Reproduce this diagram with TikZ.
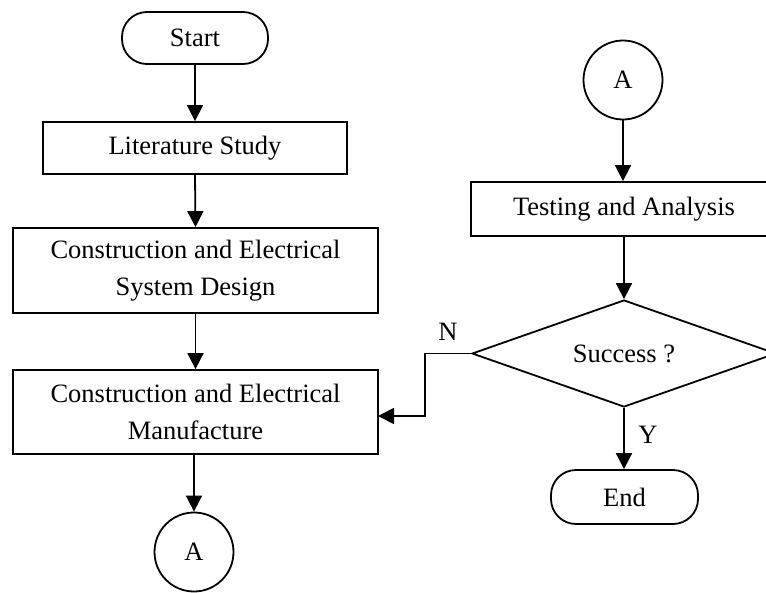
\documentclass[tikz,border=0pt]{standalone}
\usepackage{fontspec}
\setmainfont{Liberation Serif}
\usetikzlibrary{arrows.meta,shapes.geometric}
\begin{document}
\begin{tikzpicture}[x=1pt,y=-1pt,
  every node/.style={font=\fontsize{26.5}{37.5}\selectfont, inner sep=0pt},
  box/.style={draw, line width=1.8pt, rectangle, align=center},
  term/.style={draw, line width=1.8pt, rectangle, rounded corners=25pt, align=center},
  conn/.style={draw, line width=1.8pt, circle, minimum size=79pt},
  decide/.style={draw, line width=1.8pt, diamond, aspect=2.84, minimum width=304pt, minimum height=107pt},
  arr/.style={line width=1.8pt, -{Triangle[length=16pt,width=16pt]}},
  lbl/.style={}]
\useasboundingbox (0,0) rectangle (766,592);
\clip (0,0) rectangle (766,592);
\node[term, minimum width=146pt, minimum height=52pt] (start) at (195,38) {Start};
\node[box, minimum width=304pt, minimum height=52pt] (lit) at (195,148) {Literature Study};
\node[box, minimum width=365pt, minimum height=85pt] (design) at (195.5,270.5) {Construction and Electrical\\System Design};
\node[box, minimum width=365pt, minimum height=84pt] (manuf) at (195.5,412) {Construction and Electrical\\Manufacture};
\node[conn] (a1) at (194,552) {A};
\node[conn] (a2) at (623,80) {A};
\node[box, minimum width=306pt, minimum height=54pt] (test) at (624,209) {Testing and Analysis};
\node[decide] (dec) at (624,353.5) {Success ?};
\node[term, minimum width=147pt, minimum height=54pt] (end) at (624.5,497) {End};
\node[lbl] (nl) at (448,332) {N};
\node[lbl] (yl) at (648,435) {Y};
\coordinate (nbend) at (425,416);
\coordinate (nin) at (378,416);
\draw[arr] (start.south) -- (lit.north);
\draw[arr] (lit.south) -- (design.north);
\draw[arr] (design.south) -- (manuf.north);
\draw[arr] (194,454) -- (a1.north);
\draw[arr] (a2.south) -- (test.north -| a2.south);
\draw[arr] (test.south -| dec.north) -- (dec.north);
\draw[arr] (dec.south) -- (end.north -| dec.south);
\draw[arr] (dec.west) -| (nbend) -- (nin);
\end{tikzpicture}
\end{document}
